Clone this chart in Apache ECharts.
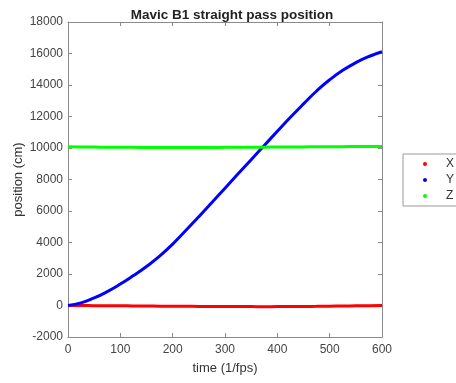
<!DOCTYPE html>
<html><head><meta charset="utf-8">
<script src="https://cdn.jsdelivr.net/npm/echarts@6/dist/echarts.min.js"></script>
<style>html,body{margin:0;padding:0;background:#fff}#c{width:456px;height:383px}</style>
</head><body><div id="c"></div>
<script>
const frames = [0,25,50,75,100,125,150,175,200,225,250,275,300,325,350,375,400,425,450,475,500,525,550,575,600];
const posX = [0,-3,-8,-14,-20,-27,-33,-40,-46,-52,-57,-62,-66,-69,-71,-72,-70,-66,-60,-52,-42,-32,-22,-12,-5];
const posY = [0,170,480,880,1360,1900,2480,3130,3900,4760,5640,6540,7450,8360,9260,10160,11060,11950,12800,13620,14330,14930,15420,15810,16110];
const posZ = [10080,10070,10060,10050,10045,10040,10035,10030,10030,10030,10032,10035,10040,10045,10050,10055,10060,10065,10070,10075,10080,10085,10090,10095,10100];
const seriesNames = ['X','Y','Z'];
const titleText = 'Mavic B1 straight pass position';
const xName = 'time (1/fps)';
const yName = 'position (cm)';

const font = 'Liberation Sans, Arial, sans-serif';
const axisCol = '#8a8a8a';
const pair = (arr) => frames.map((f,i)=>[f,arr[i]]);
const chart = echarts.init(document.getElementById('c'), null, {renderer:'canvas'});
const baseAxis = {
  axisLine:{show:true,onZero:false,lineStyle:{color:axisCol,width:1}},
  axisTick:{show:true,inside:true,length:4,lineStyle:{color:axisCol}},
  splitLine:{show:false}
};
const plain = v => String(v);
chart.setOption({
  animation:false,
  title:{text:titleText,left:227,top:3,textAlign:'center',textStyle:{fontFamily:font,fontSize:13.5,fontWeight:'bold',color:'#222'}},
  grid:{left:68,right:74,top:22,bottom:46,containLabel:false,outerBoundsMode:'none'},
  legend:{
    orient:'vertical',left:403,top:154,
    data:seriesNames,
    icon:'circle',itemWidth:4,itemHeight:4,itemGap:4,
    padding:[4,14,4,20],
    borderColor:'#999',borderWidth:1,
    textStyle:{fontFamily:font,fontSize:12,color:'#333',lineHeight:11,padding:[0,0,0,14]}
  },
  xAxis:[
    Object.assign({type:'value',min:0,max:600,interval:100,position:'bottom',
      name:xName,nameLocation:'middle',nameGap:25,nameMoveOverlap:false,
      nameTextStyle:{fontFamily:font,fontSize:13,color:'#333'},
      axisLabel:{fontFamily:font,fontSize:12,color:'#444',margin:7,formatter:plain}},baseAxis),
    Object.assign({type:'value',min:0,max:600,interval:100,position:'top',axisLabel:{show:false}},baseAxis)
  ],
  yAxis:[
    Object.assign({type:'value',min:-2000,max:18000,interval:2000,position:'left',
      name:yName,nameLocation:'middle',nameGap:43,nameMoveOverlap:false,
      nameTextStyle:{fontFamily:font,fontSize:13,color:'#333'},
      axisLabel:{fontFamily:font,fontSize:12,color:'#444',margin:5,formatter:plain}},baseAxis),
    Object.assign({type:'value',min:-2000,max:18000,interval:2000,position:'right',axisLabel:{show:false}},baseAxis)
  ],
  series:[
    {name:'X',type:'line',data:pair(posX),smooth:true,showSymbol:false,symbol:'circle',itemStyle:{color:'#ff0000'},lineStyle:{color:'#ff0000',width:3}},
    {name:'Y',type:'line',data:pair(posY),smooth:true,showSymbol:false,symbol:'circle',itemStyle:{color:'#0000ff'},lineStyle:{color:'#0000ff',width:3}},
    {name:'Z',type:'line',data:pair(posZ),smooth:true,showSymbol:false,symbol:'circle',itemStyle:{color:'#00ff00'},lineStyle:{color:'#00ff00',width:3}}
  ]
});
</script></body></html>
